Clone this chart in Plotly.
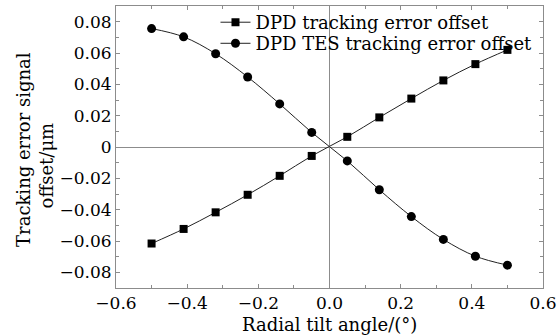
import plotly.graph_objects as go

# Radial tilt angle (degrees)
tilt_angle = [-0.5, -0.41, -0.32, -0.23, -0.14, -0.05, 0.05, 0.14, 0.23, 0.32, 0.41, 0.5]

# Tracking error signal offset (um)
dpd_offset = [-0.0616, -0.0523, -0.0417, -0.0305, -0.0184, -0.0057,
              0.0065, 0.0189, 0.0309, 0.0425, 0.0529, 0.062]
dpd_tes_offset = [0.0756, 0.0703, 0.0595, 0.0447, 0.0275, 0.0093,
                  -0.0089, -0.0273, -0.0444, -0.059, -0.0697, -0.0754]

series_names = ["DPD tracking error offset", "DPD TES tracking error offset"]
x_title = "Radial tilt angle/(°)"
y_title_lines = ["Tracking error signal", "offset/μm"]

FONT = "DejaVu Serif"
AXIS_GRAY = "#8c8c8c"
FS = 18
TICK_FS = 17

fig = go.Figure()
fig.add_trace(go.Scatter(
    x=tilt_angle, y=dpd_offset, name=series_names[0],
    mode="lines+markers", legend="legend", showlegend=True,
    line=dict(color="#222222", width=1, shape="spline"),
    marker=dict(symbol="square", size=8, color="black"),
))
fig.add_trace(go.Scatter(
    x=tilt_angle, y=dpd_tes_offset, name=series_names[1],
    mode="lines+markers", legend="legend2", showlegend=True,
    line=dict(color="#222222", width=1, shape="spline"),
    marker=dict(symbol="circle", size=9, color="black"),
))

axis_common = dict(
    showline=True, linecolor=AXIS_GRAY, linewidth=1, mirror="ticks",
    ticks="inside", ticklen=4, tickcolor=AXIS_GRAY, tickwidth=1,
    showgrid=False, automargin=False,
    zeroline=True, zerolinecolor=AXIS_GRAY, zerolinewidth=1,
    tickfont=dict(family=FONT, size=TICK_FS, color="black"),
)

fig.update_xaxes(
    range=[-0.6, 0.6], dtick=0.2, tickformat=".1f", ticklabelstandoff=0,
    minor=dict(dtick=0.1, ticks="inside", ticklen=3, tickcolor=AXIS_GRAY),
    **axis_common,
)
fig.update_yaxes(
    range=[-0.09, 0.09], dtick=0.02, tickformat=".2~f",
    minor=dict(dtick=0.01, ticks="inside", ticklen=3, tickcolor=AXIS_GRAY),
    **axis_common,
)

title_font = dict(family=FONT, size=FS, color="black")
legend_common = dict(
    xanchor="left", yanchor="top",
    bgcolor="rgba(0,0,0,0)", borderwidth=0,
    font=title_font, itemwidth=30,
)

fig.update_layout(
    width=558, height=335,
    margin=dict(l=116, r=15, t=5, b=47),
    plot_bgcolor="white", paper_bgcolor="white",
    font=title_font,
    showlegend=True,
    legend=dict(x=0.233, y=1.0035, **legend_common),
    legend2=dict(x=0.233, y=0.929, **legend_common),
    annotations=[
        dict(text=x_title, xref="paper", yref="paper", x=0.5, y=-0.13,
             xanchor="center", yanchor="middle", showarrow=False, font=title_font),
        dict(text=y_title_lines[0], xref="paper", yref="paper", x=-0.2155, y=0.493,
             xanchor="center", yanchor="middle", textangle=-90, showarrow=False, font=title_font),
        dict(text=y_title_lines[1], xref="paper", yref="paper", x=-0.164, y=0.4346,
             xanchor="center", yanchor="middle", textangle=-90, showarrow=False, font=title_font),
    ],
)

fig.write_html("out.html")
